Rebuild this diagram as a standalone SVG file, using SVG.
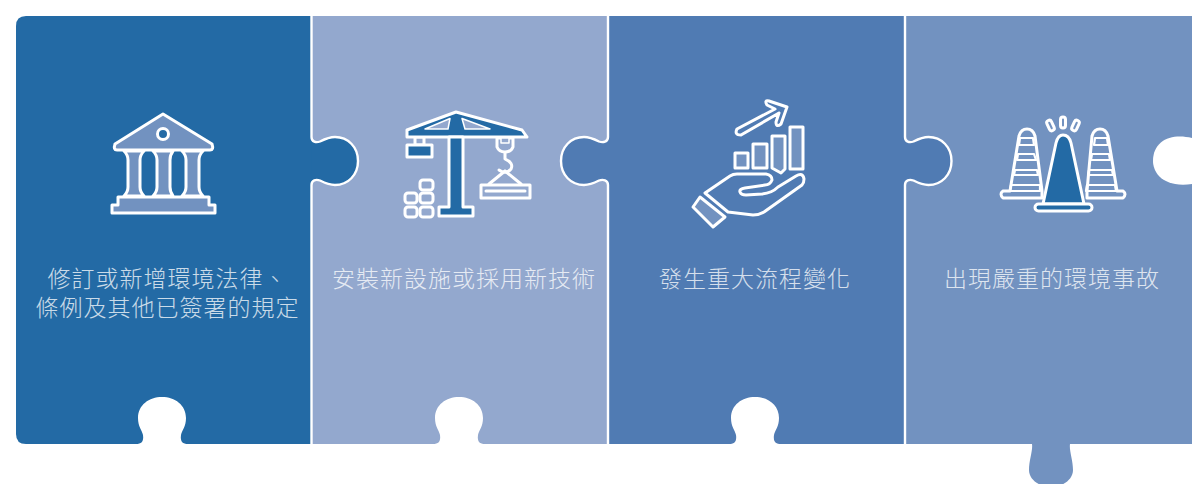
<svg xmlns="http://www.w3.org/2000/svg" width="1192" height="484" viewBox="0 0 1192 484">
<defs>
<style>
text{font-family:"Noto Sans CJK TC","Noto Sans CJK SC",sans-serif;font-size:23px;font-weight:300;fill:#fff;text-anchor:middle;letter-spacing:1px;opacity:.76}
.s{stroke:#fff;stroke-width:3;stroke-linejoin:round;stroke-linecap:round}
.l{fill:#7292C0}.d{fill:#236AA5}.n{fill:none}.b{fill:#93A8CE}
</style>
<path id="notch" d="M-26 47C-21 47-18 45-19 38C-20 33-24 30-24 21C-24 8-13 0 0 0C13 0 24 8 24 21C24 30 20 33 19 38C18 45 21 47 26 47Z" fill="#fff"/>
</defs>
<rect width="1192" height="484" fill="#fff"/>
<g id="panel-1"><path d="M26 16H312V444H26Q16 444 16 434V26Q16 16 26 16Z" fill="#236AA5"/>
<use href="#notch" x="162" y="397"/>
<g id="icon-1" class="s l"><path d="M163 114L212 144Q214 150 210 150H117Q113 150 115 144Z"/><circle cx="163" cy="134" r="5.500" fill="#236AA5"/>
<path d="M124 151H144Q140 155 140 160V187Q140 192 144 196H124Q128 192 128 187V160Q128 155 124 151Z"/><path d="M153 151H173Q170 155 170 160V187Q170 192 173 196H153Q157 192 157 187V160Q157 155 153 151Z"/><path d="M182 151H203Q199 155 199 160V187Q199 192 203 196H182Q186 192 186 187V160Q186 155 182 151Z"/>
<path d="M118 197H209V205H215V213H112V205H118Z"/></g>
<text x="167.500" y="287">修訂或新增環境法律、<tspan x="167.500" dy="29">條例及其他已簽署的規定</tspan></text></g>
<g id="panel-2"><path d="M312 16H608V444H312Z" fill="#93A8CE"/>
<use href="#notch" x="459" y="397"/>
<g id="icon-2" class="s"><rect x="415" y="137" width="9" height="8" class="b"/><path d="M407 145H432V157H407Z" class="d"/>
<path d="M407 130L456 112L522 130L527 137H407Z" class="d"/>
<path d="M425 129L450 118.500L448 129Z M462 118.500L490 129H465Z" class="b" stroke-width="1.500"/>
<path d="M449 137H463V207H473V216H439V207H449Z" class="d"/>
<path d="M497 138H513V147Q511 152 505 152Q499 152 497 147Z" class="b"/><rect x="501" y="138" width="8" height="5" class="b" stroke-width="1.500"/>
<path d="M505 153V159Q514 163 511 169Q506 175 499 170" class="n"/>
<path d="M505 171L489 184M505 171L521 184" class="n"/>
<path d="M481 185H530V198H481Z" class="b"/><path d="M486 191H525" class="n"/>
<g class="b"><rect x="420" y="180" width="13" height="10" rx="3"/><rect x="405" y="193" width="12" height="10" rx="3"/><rect x="420" y="193" width="13" height="10" rx="3"/><rect x="405" y="207" width="12" height="10" rx="3"/><rect x="420" y="207" width="13" height="10" rx="3"/></g></g>
<text x="464" y="287">安裝新設施或採用新技術</text></g>
<g id="panel-3"><path d="M608 16H905V444H608Z" fill="#507BB3"/>
<use href="#notch" x="755" y="397"/>
<g id="icon-3" class="s"><path d="M737 129L775 109L767 105Q764 100 769 101L787 107L781 124Q776 128 776 122L779 113L741 135Q734 135 737 129Z" fill="#507BB3"/><path d="M735 153H748V168H735Z M753 144H767V168H753Z M772 136H785V169L781 173L772 168Z M790 127H803V169H790Z" class="l"/>
<path d="M705 193L730 176Q733 174 737 174H766Q772 175 772 180Q770 185 765 185L745 188Q739 189 740 192Q741 195 746 195L762 194Q772 193 778 187L796 176Q803 172 804 179Q804 183 802 185L764 212Q759 215 753 215L728 212Z" class="n"/>
<path d="M700 197L725 217L713 227L693 207Z" class="l"/></g>
<text x="755" y="287">發生重大流程變化</text></g>
<g id="panel-4"><path d="M905 16H1192V444H1070C1069 450 1073 460 1073 470C1073 480 1062 487 1051 487C1040 487 1029 480 1029 470C1029 460 1033 450 1032 444H905Z" fill="#7292C0"/>
<path d="M1192 138C1172 133 1153 140 1153 161C1153 172 1162 188 1192 184Z" fill="#fff"/>
<g id="icon-4" class="s"><path d="M1019 136Q1021 129 1027 129Q1033 129 1035 136L1042 191V198H1003Q999 194 1003 191H1010Z" class="l"/><path d="M1020 138H1033L1034 145H1019ZM1018 154H1034L1036 160H1017ZM1015 170H1037L1038 175H1014ZM1011 185H1040V191H1010Z" class="n" stroke-width="2.200"/>
<path d="M1092 136Q1094 129 1100 129Q1106 129 1108 136L1117 191H1123Q1127 194 1123 198H1087V191Z" class="l"/><path d="M1095 138H1107L1108 145H1094ZM1092 154H1109L1110 160H1091ZM1089 170H1112L1113 175H1088ZM1087 185H1115L1116 191H1086Z" class="n" stroke-width="2.200"/>
<path d="M1056 143Q1058 135 1063 135Q1069 135 1071 143L1084 204H1043Z" class="d"/><rect x="1035" y="204" width="57" height="7" rx="3.500" class="d"/>
<rect x="1048" y="120" width="5" height="11" rx="2.500" transform="rotate(-25 1050.500 125.500)" class="n"/><rect x="1060.500" y="117" width="5" height="11" rx="2.500" class="n"/><rect x="1073" y="120" width="5" height="11" rx="2.500" transform="rotate(25 1075.500 125.500)" class="n"/></g>
<text x="1052" y="287">出現嚴重的環境事故</text></g>
<g id="connectors">
<path id="tab-1" d="M311.500 16V137C311.500 142 316 143 320 141.500C325 139 330 137 335 137C348 137 358 147 358 161C358 175 348 185 335 185C330 185 325 183 320 180.500C316 179 311.500 180 311.500 185V444" fill="#236AA5" stroke="#fff" stroke-width="2.400"/>
<path id="tab-2" d="M608 16V137C608 142 603 143 599 141.500C594 139 589 137 584 137C571 137 561 147 561 161C561 175 571 185 584 185C589 185 594 183 599 180.500C603 179 608 180 608 185V444" fill="#507BB3" stroke="#fff" stroke-width="2.400"/>
<path id="tab-3" d="M905 16V137C905 142 909.500 143 913.500 141.500C918.500 139 923.500 137 928.500 137C941.500 137 951.500 147 951.500 161C951.500 175 941.500 185 928.500 185C923.500 185 918.500 183 913.500 180.500C909.500 179 905 180 905 185V444" fill="#507BB3" stroke="#fff" stroke-width="2.400"/>
</g>
</svg>
